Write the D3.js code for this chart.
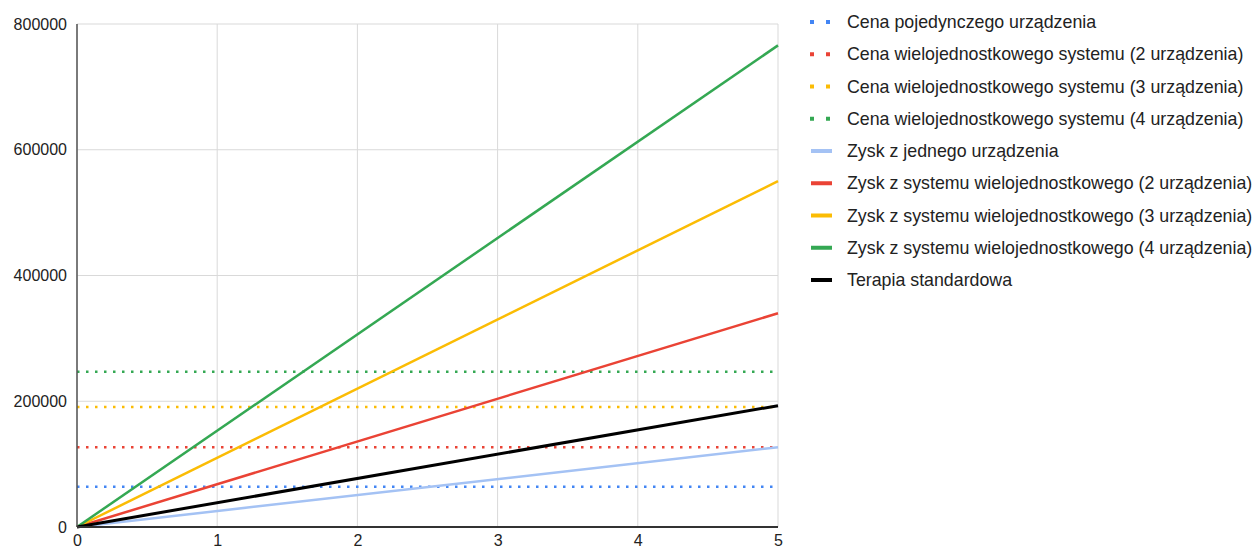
<!DOCTYPE html>
<html>
<head>
<meta charset="utf-8">
<script src="https://cdn.jsdelivr.net/npm/d3@7"></script>
<style>
  html, body { margin: 0; padding: 0; background: #fff; }
  svg { display: block; font-family: "Liberation Sans", Arial, Helvetica, sans-serif; }
</style>
</head>
<body>
<svg id="chart" width="1254" height="552"></svg>
<script>
// Years on the horizontal axis (start and end of the period)
const years = [0, 5];

// Purchase price of each configuration (constant over time)
const priceLabels = [
  "Cena pojedynczego urządzenia",
  "Cena wielojednostkowego systemu (2 urządzenia)",
  "Cena wielojednostkowego systemu (3 urządzenia)",
  "Cena wielojednostkowego systemu (4 urządzenia)"
];
const priceValues = [64000, 127000, 191000, 247000];
const priceColors = ["#4285F4", "#EA4335", "#FBBC04", "#34A853"];

// Cumulative profit per configuration, at years[0] and years[1]
const profitLabels = [
  "Zysk z jednego urządzenia",
  "Zysk z systemu wielojednostkowego (2 urządzenia)",
  "Zysk z systemu wielojednostkowego (3 urządzenia)",
  "Zysk z systemu wielojednostkowego (4 urządzenia)",
  "Terapia standardowa"
];
const profitValues = [
  [0, 127000],
  [0, 340000],
  [0, 550000],
  [0, 766000],
  [0, 193000]
];
const profitColors = ["#A4C2F4", "#EA4335", "#FBBC04", "#34A853", "#000000"];

const xTicks = [0, 1, 2, 3, 4, 5];
const yTicks = [0, 200000, 400000, 600000, 800000];

const svg = d3.select("#chart");
const plot = { left: 77, right: 778, top: 24, bottom: 527 };

const x = d3.scaleLinear().domain([0, 5]).range([plot.left, plot.right]);
const y = d3.scaleLinear().domain([0, 800000]).range([plot.bottom, plot.top]);

// Gridlines
const grid = svg.append("g");
grid.selectAll("line.h").data(yTicks).join("line")
  .attr("x1", plot.left).attr("x2", plot.right)
  .attr("y1", d => y(d)).attr("y2", d => y(d))
  .attr("stroke", "#d9d9d9").attr("stroke-width", 1);
grid.selectAll("line.v").data(xTicks).join("line")
  .attr("y1", plot.top).attr("y2", plot.bottom)
  .attr("x1", d => x(d)).attr("x2", d => x(d))
  .attr("stroke", "#d9d9d9").attr("stroke-width", 1);

// Axes (labels only; lines drawn as baselines)
const yAxis = d3.axisLeft(y).tickValues(yTicks).tickSize(0).tickPadding(10).tickFormat(d3.format("d"));
svg.append("g").attr("transform", `translate(${plot.left},0)`).call(yAxis)
  .call(g => g.select(".domain").remove())
  .selectAll("text").attr("font-size", 16).attr("fill", "#222");

const xAxis = d3.axisBottom(x).tickValues(xTicks).tickSize(0).tickPadding(8).tickFormat(d3.format("d"));
svg.append("g").attr("transform", `translate(0,${plot.bottom})`).call(xAxis)
  .call(g => g.select(".domain").remove())
  .selectAll("text").attr("font-size", 16).attr("fill", "#222");

// Series
const line = d3.line().x(d => x(d[0])).y(d => y(d[1]));
const series = svg.append("g");

priceValues.forEach((v, i) => {
  series.append("path")
    .datum(years.map(t => [t, v]))
    .attr("d", line)
    .attr("fill", "none")
    .attr("stroke", priceColors[i])
    .attr("stroke-width", 2.5)
    .attr("stroke-dasharray", "2.5,6.5");
});

profitValues.forEach((vals, i) => {
  series.append("path")
    .datum(years.map((t, j) => [t, vals[j]]))
    .attr("d", line)
    .attr("fill", "none")
    .attr("stroke", profitColors[i])
    .attr("stroke-width", i === 4 ? 3 : 2.5);
});

// Baselines
svg.append("line")
  .attr("x1", plot.left).attr("x2", plot.left)
  .attr("y1", plot.top).attr("y2", plot.bottom)
  .attr("stroke", "#555").attr("stroke-width", 1.5);
svg.append("line")
  .attr("x1", plot.left).attr("x2", plot.right)
  .attr("y1", plot.bottom).attr("y2", plot.bottom)
  .attr("stroke", "#333").attr("stroke-width", 2);

// Legend
const legendItems = priceLabels.map((l, i) => ({ label: l, color: priceColors[i], dotted: true }))
  .concat(profitLabels.map((l, i) => ({ label: l, color: profitColors[i], dotted: false })));

const legend = svg.append("g").attr("transform", "translate(808,22)");
const rows = legend.selectAll("g").data(legendItems).join("g")
  .attr("transform", (d, i) => `translate(0,${i * 32.25})`);

rows.filter(d => d.dotted).selectAll("rect")
  .data(d => [0, 1].map(k => ({ k, color: d.color })))
  .join("rect")
  .attr("x", d => 2 + d.k * 16).attr("y", -2)
  .attr("width", 4).attr("height", 4)
  .attr("fill", d => d.color);

rows.filter(d => !d.dotted).append("rect")
  .attr("x", 3).attr("y", -2).attr("width", 21).attr("height", 4)
  .attr("fill", d => d.color);

rows.append("text")
  .attr("x", 39).attr("y", 0).attr("dy", "0.35em")
  .attr("font-size", 17.8).attr("fill", "#222")
  .text(d => d.label);
</script>
</body>
</html>
